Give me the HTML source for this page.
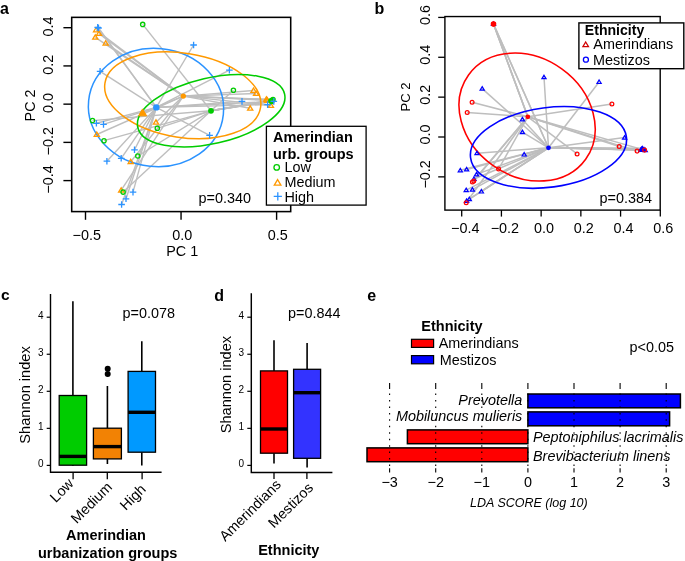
<!DOCTYPE html>
<html><head><meta charset="utf-8"><style>
html,body{margin:0;padding:0;background:#fff;}
svg{display:block;font-family:"Liberation Sans", sans-serif;will-change:transform;}
</style></head><body>
<svg width="685" height="561" viewBox="0 0 685 561">
<rect width="685" height="561" fill="#fff"/>
<text x="0.00" y="13.60" font-size="16" text-anchor="start" font-weight="bold" fill="#000">a</text>
<g stroke-linecap="butt">
<line x1="211.00" y1="110.80" x2="142.70" y2="24.40" stroke="#BEBEBE" stroke-width="1.4"/>
<line x1="211.00" y1="110.80" x2="233.40" y2="90.30" stroke="#BEBEBE" stroke-width="1.4"/>
<line x1="211.00" y1="110.80" x2="92.50" y2="120.60" stroke="#BEBEBE" stroke-width="1.4"/>
<line x1="211.00" y1="110.80" x2="157.30" y2="128.30" stroke="#BEBEBE" stroke-width="1.4"/>
<line x1="211.00" y1="110.80" x2="104.00" y2="140.70" stroke="#BEBEBE" stroke-width="1.4"/>
<line x1="211.00" y1="110.80" x2="137.80" y2="156.00" stroke="#BEBEBE" stroke-width="1.4"/>
<line x1="211.00" y1="110.80" x2="123.10" y2="192.10" stroke="#BEBEBE" stroke-width="1.4"/>
<line x1="211.00" y1="110.80" x2="272.20" y2="100.40" stroke="#BEBEBE" stroke-width="1.4"/>
<line x1="211.00" y1="110.80" x2="272.20" y2="100.40" stroke="#BEBEBE" stroke-width="1.4"/>
<line x1="211.00" y1="110.80" x2="272.20" y2="100.40" stroke="#BEBEBE" stroke-width="1.4"/>
<line x1="211.00" y1="110.80" x2="271.50" y2="101.50" stroke="#BEBEBE" stroke-width="1.4"/>
<line x1="211.00" y1="110.80" x2="271.50" y2="101.50" stroke="#BEBEBE" stroke-width="1.4"/>
<line x1="211.00" y1="110.80" x2="273.00" y2="99.60" stroke="#BEBEBE" stroke-width="1.4"/>
<line x1="211.00" y1="110.80" x2="271.00" y2="100.80" stroke="#BEBEBE" stroke-width="1.4"/>
<line x1="183.30" y1="96.10" x2="266.40" y2="99.30" stroke="#BEBEBE" stroke-width="1.4"/>
<line x1="183.30" y1="96.10" x2="267.40" y2="100.40" stroke="#BEBEBE" stroke-width="1.4"/>
<line x1="183.30" y1="96.10" x2="96.10" y2="30.00" stroke="#BEBEBE" stroke-width="1.4"/>
<line x1="183.30" y1="96.10" x2="99.00" y2="33.60" stroke="#BEBEBE" stroke-width="1.4"/>
<line x1="183.30" y1="96.10" x2="95.30" y2="37.30" stroke="#BEBEBE" stroke-width="1.4"/>
<line x1="183.30" y1="96.10" x2="105.70" y2="43.20" stroke="#BEBEBE" stroke-width="1.4"/>
<line x1="183.30" y1="96.10" x2="253.50" y2="90.50" stroke="#BEBEBE" stroke-width="1.4"/>
<line x1="183.30" y1="96.10" x2="256.10" y2="93.50" stroke="#BEBEBE" stroke-width="1.4"/>
<line x1="183.30" y1="96.10" x2="250.20" y2="108.30" stroke="#BEBEBE" stroke-width="1.4"/>
<line x1="183.30" y1="96.10" x2="142.40" y2="112.80" stroke="#BEBEBE" stroke-width="1.4"/>
<line x1="183.30" y1="96.10" x2="156.00" y2="122.30" stroke="#BEBEBE" stroke-width="1.4"/>
<line x1="183.30" y1="96.10" x2="96.80" y2="134.50" stroke="#BEBEBE" stroke-width="1.4"/>
<line x1="183.30" y1="96.10" x2="130.70" y2="161.80" stroke="#BEBEBE" stroke-width="1.4"/>
<line x1="183.30" y1="96.10" x2="121.20" y2="190.20" stroke="#BEBEBE" stroke-width="1.4"/>
<line x1="183.30" y1="96.10" x2="266.90" y2="99.70" stroke="#BEBEBE" stroke-width="1.4"/>
<line x1="183.30" y1="96.10" x2="270.90" y2="105.60" stroke="#BEBEBE" stroke-width="1.4"/>
<line x1="156.30" y1="107.40" x2="97.70" y2="27.30" stroke="#BEBEBE" stroke-width="1.4"/>
<line x1="156.30" y1="107.40" x2="98.50" y2="28.00" stroke="#BEBEBE" stroke-width="1.4"/>
<line x1="156.30" y1="107.40" x2="100.10" y2="71.30" stroke="#BEBEBE" stroke-width="1.4"/>
<line x1="156.30" y1="107.40" x2="193.60" y2="45.00" stroke="#BEBEBE" stroke-width="1.4"/>
<line x1="156.30" y1="107.40" x2="229.40" y2="70.20" stroke="#BEBEBE" stroke-width="1.4"/>
<line x1="156.30" y1="107.40" x2="242.00" y2="101.40" stroke="#BEBEBE" stroke-width="1.4"/>
<line x1="156.30" y1="107.40" x2="209.60" y2="135.30" stroke="#BEBEBE" stroke-width="1.4"/>
<line x1="156.30" y1="107.40" x2="96.40" y2="123.30" stroke="#BEBEBE" stroke-width="1.4"/>
<line x1="156.30" y1="107.40" x2="103.50" y2="124.40" stroke="#BEBEBE" stroke-width="1.4"/>
<line x1="156.30" y1="107.40" x2="134.50" y2="149.80" stroke="#BEBEBE" stroke-width="1.4"/>
<line x1="156.30" y1="107.40" x2="121.20" y2="158.30" stroke="#BEBEBE" stroke-width="1.4"/>
<line x1="156.30" y1="107.40" x2="106.90" y2="161.20" stroke="#BEBEBE" stroke-width="1.4"/>
<line x1="156.30" y1="107.40" x2="133.00" y2="192.10" stroke="#BEBEBE" stroke-width="1.4"/>
<line x1="156.30" y1="107.40" x2="126.00" y2="198.80" stroke="#BEBEBE" stroke-width="1.4"/>
<line x1="156.30" y1="107.40" x2="121.60" y2="204.50" stroke="#BEBEBE" stroke-width="1.4"/>
<line x1="156.30" y1="107.40" x2="273.80" y2="101.40" stroke="#BEBEBE" stroke-width="1.4"/>
<line x1="156.30" y1="107.40" x2="267.60" y2="104.60" stroke="#BEBEBE" stroke-width="1.4"/>
</g>
<ellipse cx="156.00" cy="107.50" rx="67.70" ry="59.00" transform="rotate(5.79 156.00 107.50)" fill="none" stroke="#2B93FF" stroke-width="1.5"/>
<ellipse cx="182.76" cy="95.31" rx="78.76" ry="42.09" transform="rotate(8.89 182.76 95.31)" fill="none" stroke="#FF9900" stroke-width="1.5"/>
<ellipse cx="211.20" cy="110.77" rx="75.27" ry="32.87" transform="rotate(-12.86 211.20 110.77)" fill="none" stroke="#00CC00" stroke-width="1.5"/>
<polygon points="96.10,27.54 98.70,31.87 93.50,31.87" fill="none" stroke="#FF9900" stroke-width="1.3" stroke-linejoin="miter"/>
<polygon points="256.10,91.04 258.70,95.37 253.50,95.37" fill="none" stroke="#FF9900" stroke-width="1.3" stroke-linejoin="miter"/>
<polygon points="253.50,88.04 256.10,92.37 250.90,92.37" fill="none" stroke="#FF9900" stroke-width="1.3" stroke-linejoin="miter"/>
<polygon points="266.90,97.24 269.50,101.57 264.30,101.57" fill="none" stroke="#FF9900" stroke-width="1.3" stroke-linejoin="miter"/>
<polygon points="250.20,105.84 252.80,110.17 247.60,110.17" fill="none" stroke="#FF9900" stroke-width="1.3" stroke-linejoin="miter"/>
<polygon points="121.20,187.74 123.80,192.07 118.60,192.07" fill="none" stroke="#FF9900" stroke-width="1.3" stroke-linejoin="miter"/>
<polygon points="95.30,34.84 97.90,39.17 92.70,39.17" fill="none" stroke="#FF9900" stroke-width="1.3" stroke-linejoin="miter"/>
<polygon points="105.70,40.74 108.30,45.07 103.10,45.07" fill="none" stroke="#FF9900" stroke-width="1.3" stroke-linejoin="miter"/>
<polygon points="130.70,159.34 133.30,163.67 128.10,163.67" fill="none" stroke="#FF9900" stroke-width="1.3" stroke-linejoin="miter"/>
<polygon points="266.40,96.84 269.00,101.17 263.80,101.17" fill="none" stroke="#FF9900" stroke-width="1.3" stroke-linejoin="miter"/>
<polygon points="270.90,103.14 273.50,107.47 268.30,107.47" fill="none" stroke="#FF9900" stroke-width="1.3" stroke-linejoin="miter"/>
<polygon points="96.80,132.04 99.40,136.37 94.20,136.37" fill="none" stroke="#FF9900" stroke-width="1.3" stroke-linejoin="miter"/>
<polygon points="142.40,110.34 145.00,114.67 139.80,114.67" fill="none" stroke="#FF9900" stroke-width="1.3" stroke-linejoin="miter"/>
<polygon points="267.40,97.94 270.00,102.27 264.80,102.27" fill="none" stroke="#FF9900" stroke-width="1.3" stroke-linejoin="miter"/>
<polygon points="99.00,31.14 101.60,35.47 96.40,35.47" fill="none" stroke="#FF9900" stroke-width="1.3" stroke-linejoin="miter"/>
<polygon points="156.00,119.84 158.60,124.17 153.40,124.17" fill="none" stroke="#FF9900" stroke-width="1.3" stroke-linejoin="miter"/>
<circle cx="142.70" cy="24.40" r="2.15" fill="none" stroke="#00CC00" stroke-width="1.3"/>
<circle cx="157.30" cy="128.30" r="2.15" fill="none" stroke="#00CC00" stroke-width="1.3"/>
<circle cx="233.40" cy="90.30" r="2.15" fill="none" stroke="#00CC00" stroke-width="1.3"/>
<circle cx="272.20" cy="100.40" r="2.15" fill="none" stroke="#00CC00" stroke-width="1.3"/>
<circle cx="137.80" cy="156.00" r="2.15" fill="none" stroke="#00CC00" stroke-width="1.3"/>
<circle cx="92.50" cy="120.60" r="2.15" fill="none" stroke="#00CC00" stroke-width="1.3"/>
<circle cx="104.00" cy="140.70" r="2.15" fill="none" stroke="#00CC00" stroke-width="1.3"/>
<circle cx="123.10" cy="192.10" r="2.15" fill="none" stroke="#00CC00" stroke-width="1.3"/>
<circle cx="271.50" cy="101.50" r="2.15" fill="none" stroke="#00CC00" stroke-width="1.3"/>
<circle cx="271.00" cy="100.80" r="2.15" fill="none" stroke="#00CC00" stroke-width="1.3"/>
<circle cx="273.00" cy="99.60" r="2.15" fill="none" stroke="#00CC00" stroke-width="1.3"/>
<path d="M122.70 198.80H129.30M126.00 195.50V202.10" stroke="#2B93FF" stroke-width="1.3" fill="none"/>
<path d="M206.30 135.30H212.90M209.60 132.00V138.60" stroke="#2B93FF" stroke-width="1.3" fill="none"/>
<path d="M93.10 123.30H99.70M96.40 120.00V126.60" stroke="#2B93FF" stroke-width="1.3" fill="none"/>
<path d="M100.20 124.40H106.80M103.50 121.10V127.70" stroke="#2B93FF" stroke-width="1.3" fill="none"/>
<path d="M117.90 158.30H124.50M121.20 155.00V161.60" stroke="#2B93FF" stroke-width="1.3" fill="none"/>
<path d="M190.30 45.00H196.90M193.60 41.70V48.30" stroke="#2B93FF" stroke-width="1.3" fill="none"/>
<path d="M270.50 101.40H277.10M273.80 98.10V104.70" stroke="#2B93FF" stroke-width="1.3" fill="none"/>
<path d="M264.30 104.60H270.90M267.60 101.30V107.90" stroke="#2B93FF" stroke-width="1.3" fill="none"/>
<path d="M131.20 149.80H137.80M134.50 146.50V153.10" stroke="#2B93FF" stroke-width="1.3" fill="none"/>
<path d="M129.70 192.10H136.30M133.00 188.80V195.40" stroke="#2B93FF" stroke-width="1.3" fill="none"/>
<path d="M94.40 27.30H101.00M97.70 24.00V30.60" stroke="#2B93FF" stroke-width="1.3" fill="none"/>
<path d="M96.80 71.30H103.40M100.10 68.00V74.60" stroke="#2B93FF" stroke-width="1.3" fill="none"/>
<path d="M226.10 70.20H232.70M229.40 66.90V73.50" stroke="#2B93FF" stroke-width="1.3" fill="none"/>
<path d="M118.30 204.50H124.90M121.60 201.20V207.80" stroke="#2B93FF" stroke-width="1.3" fill="none"/>
<path d="M95.20 28.00H101.80M98.50 24.70V31.30" stroke="#2B93FF" stroke-width="1.3" fill="none"/>
<path d="M103.60 161.20H110.20M106.90 157.90V164.50" stroke="#2B93FF" stroke-width="1.3" fill="none"/>
<path d="M238.70 101.40H245.30M242.00 98.10V104.70" stroke="#2B93FF" stroke-width="1.3" fill="none"/>
<polygon points="142.6,108.9 146.6,115.8 138.6,115.8" fill="#FF9900" stroke="#FF9900" stroke-width="1"/>
<circle cx="211.00" cy="110.80" r="2.90" fill="#00CC00" stroke="none" stroke-width="0"/>
<circle cx="183.30" cy="96.10" r="2.70" fill="#FF9900" stroke="none" stroke-width="0"/>
<circle cx="156.30" cy="107.40" r="3.20" fill="#2B93FF" stroke="none" stroke-width="0"/>
<rect x="71.70" y="17.35" width="219.00" height="194.25" fill="none" stroke="#000" stroke-width="1.55"/>
<line x1="85.50" y1="211.60" x2="85.50" y2="219.80" stroke="#000" stroke-width="1.4"/>
<text x="86.70" y="239.80" font-size="14.4" text-anchor="middle" fill="#000">−0.5</text>
<line x1="181.05" y1="211.60" x2="181.05" y2="219.80" stroke="#000" stroke-width="1.4"/>
<text x="182.25" y="239.80" font-size="14.4" text-anchor="middle" fill="#000">0.0</text>
<line x1="276.60" y1="211.60" x2="276.60" y2="219.80" stroke="#000" stroke-width="1.4"/>
<text x="277.80" y="239.80" font-size="14.4" text-anchor="middle" fill="#000">0.5</text>
<text x="182.20" y="256.00" font-size="14.4" text-anchor="middle" fill="#000">PC 1</text>
<line x1="63.40" y1="27.70" x2="71.70" y2="27.70" stroke="#000" stroke-width="1.4"/>
<text x="52.60" y="26.50" font-size="14.4" text-anchor="middle" fill="#000" transform="rotate(-90 52.60 26.50)">0.4</text>
<line x1="63.40" y1="65.92" x2="71.70" y2="65.92" stroke="#000" stroke-width="1.4"/>
<text x="52.60" y="64.72" font-size="14.4" text-anchor="middle" fill="#000" transform="rotate(-90 52.60 64.72)">0.2</text>
<line x1="63.40" y1="104.15" x2="71.70" y2="104.15" stroke="#000" stroke-width="1.4"/>
<text x="52.60" y="102.95" font-size="14.4" text-anchor="middle" fill="#000" transform="rotate(-90 52.60 102.95)">0.0</text>
<line x1="63.40" y1="142.38" x2="71.70" y2="142.38" stroke="#000" stroke-width="1.4"/>
<text x="52.60" y="141.18" font-size="14.4" text-anchor="middle" fill="#000" transform="rotate(-90 52.60 141.18)">−0.2</text>
<line x1="63.40" y1="180.60" x2="71.70" y2="180.60" stroke="#000" stroke-width="1.4"/>
<text x="52.60" y="179.40" font-size="14.4" text-anchor="middle" fill="#000" transform="rotate(-90 52.60 179.40)">−0.4</text>
<text x="34.60" y="105.40" font-size="14.4" text-anchor="middle" fill="#000" transform="rotate(-90 34.60 105.40)">PC 2</text>
<text x="198.50" y="203.10" font-size="14.4" text-anchor="start" fill="#000">p=0.340</text>
<rect x="266.40" y="126.30" width="99.70" height="78.80" fill="#fff" stroke="#000" stroke-width="1.3"/>
<text x="273.00" y="141.60" font-size="14.5" text-anchor="start" font-weight="bold" fill="#000">Amerindian</text>
<text x="273.00" y="158.50" font-size="14.5" text-anchor="start" font-weight="bold" fill="#000">urb. groups</text>
<circle cx="276.70" cy="167.40" r="2.75" fill="none" stroke="#00CC00" stroke-width="1.3"/>
<text x="284.40" y="172.30" font-size="14.4" text-anchor="start" fill="#000">Low</text>
<polygon points="277.60,179.58 280.90,185.08 274.30,185.08" fill="none" stroke="#FF9900" stroke-width="1.3" stroke-linejoin="miter"/>
<text x="284.40" y="187.10" font-size="14.4" text-anchor="start" fill="#000">Medium</text>
<path d="M273.70 196.30H281.90M277.80 192.20V200.40" stroke="#2B93FF" stroke-width="1.3" fill="none"/>
<text x="284.40" y="202.10" font-size="14.4" text-anchor="start" fill="#000">High</text>
<text x="374.50" y="14.30" font-size="16" text-anchor="start" font-weight="bold" fill="#000">b</text>
<line x1="527.80" y1="116.80" x2="493.50" y2="24.00" stroke="#BEBEBE" stroke-width="1.5"/>
<line x1="527.80" y1="116.80" x2="493.50" y2="24.00" stroke="#BEBEBE" stroke-width="1.5"/>
<line x1="527.80" y1="116.80" x2="493.50" y2="24.00" stroke="#BEBEBE" stroke-width="1.5"/>
<line x1="527.80" y1="116.80" x2="472.10" y2="102.20" stroke="#BEBEBE" stroke-width="1.5"/>
<line x1="527.80" y1="116.80" x2="467.20" y2="112.50" stroke="#BEBEBE" stroke-width="1.5"/>
<line x1="527.80" y1="116.80" x2="611.90" y2="104.00" stroke="#BEBEBE" stroke-width="1.5"/>
<line x1="527.80" y1="116.80" x2="498.60" y2="169.00" stroke="#BEBEBE" stroke-width="1.5"/>
<line x1="527.80" y1="116.80" x2="473.80" y2="181.10" stroke="#BEBEBE" stroke-width="1.5"/>
<line x1="527.80" y1="116.80" x2="472.40" y2="182.00" stroke="#BEBEBE" stroke-width="1.5"/>
<line x1="527.80" y1="116.80" x2="466.20" y2="202.70" stroke="#BEBEBE" stroke-width="1.5"/>
<line x1="527.80" y1="116.80" x2="619.20" y2="146.50" stroke="#BEBEBE" stroke-width="1.5"/>
<line x1="527.80" y1="116.80" x2="577.10" y2="153.90" stroke="#BEBEBE" stroke-width="1.5"/>
<line x1="527.80" y1="116.80" x2="637.10" y2="151.10" stroke="#BEBEBE" stroke-width="1.5"/>
<line x1="527.80" y1="116.80" x2="644.60" y2="150.10" stroke="#BEBEBE" stroke-width="1.5"/>
<line x1="548.50" y1="147.80" x2="544.00" y2="77.20" stroke="#BEBEBE" stroke-width="1.5"/>
<line x1="548.50" y1="147.80" x2="482.20" y2="88.60" stroke="#BEBEBE" stroke-width="1.5"/>
<line x1="548.50" y1="147.80" x2="599.10" y2="82.00" stroke="#BEBEBE" stroke-width="1.5"/>
<line x1="548.50" y1="147.80" x2="522.40" y2="119.40" stroke="#BEBEBE" stroke-width="1.5"/>
<line x1="548.50" y1="147.80" x2="522.40" y2="132.10" stroke="#BEBEBE" stroke-width="1.5"/>
<line x1="548.50" y1="147.80" x2="477.00" y2="153.20" stroke="#BEBEBE" stroke-width="1.5"/>
<line x1="548.50" y1="147.80" x2="524.20" y2="154.50" stroke="#BEBEBE" stroke-width="1.5"/>
<line x1="548.50" y1="147.80" x2="460.30" y2="170.30" stroke="#BEBEBE" stroke-width="1.5"/>
<line x1="548.50" y1="147.80" x2="466.60" y2="169.40" stroke="#BEBEBE" stroke-width="1.5"/>
<line x1="548.50" y1="147.80" x2="476.50" y2="174.40" stroke="#BEBEBE" stroke-width="1.5"/>
<line x1="548.50" y1="147.80" x2="474.00" y2="179.00" stroke="#BEBEBE" stroke-width="1.5"/>
<line x1="548.50" y1="147.80" x2="466.20" y2="190.10" stroke="#BEBEBE" stroke-width="1.5"/>
<line x1="548.50" y1="147.80" x2="472.40" y2="189.60" stroke="#BEBEBE" stroke-width="1.5"/>
<line x1="548.50" y1="147.80" x2="481.40" y2="191.50" stroke="#BEBEBE" stroke-width="1.5"/>
<line x1="548.50" y1="147.80" x2="469.30" y2="199.10" stroke="#BEBEBE" stroke-width="1.5"/>
<line x1="548.50" y1="147.80" x2="466.60" y2="200.90" stroke="#BEBEBE" stroke-width="1.5"/>
<line x1="548.50" y1="147.80" x2="624.60" y2="137.60" stroke="#BEBEBE" stroke-width="1.5"/>
<line x1="548.50" y1="147.80" x2="641.40" y2="149.10" stroke="#BEBEBE" stroke-width="1.5"/>
<line x1="548.50" y1="147.80" x2="641.40" y2="149.10" stroke="#BEBEBE" stroke-width="1.5"/>
<line x1="548.50" y1="147.80" x2="641.40" y2="149.10" stroke="#BEBEBE" stroke-width="1.5"/>
<line x1="548.50" y1="147.80" x2="644.00" y2="149.50" stroke="#BEBEBE" stroke-width="1.5"/>
<line x1="548.50" y1="147.80" x2="644.00" y2="149.50" stroke="#BEBEBE" stroke-width="1.5"/>
<line x1="548.50" y1="147.80" x2="644.00" y2="149.50" stroke="#BEBEBE" stroke-width="1.5"/>
<line x1="548.50" y1="147.80" x2="493.50" y2="24.00" stroke="#BEBEBE" stroke-width="1.5"/>
<line x1="548.50" y1="147.80" x2="493.50" y2="24.00" stroke="#BEBEBE" stroke-width="1.5"/>
<line x1="548.50" y1="147.80" x2="642.30" y2="148.30" stroke="#BEBEBE" stroke-width="1.5"/>
<line x1="548.50" y1="147.80" x2="643.20" y2="149.90" stroke="#BEBEBE" stroke-width="1.5"/>
<line x1="548.50" y1="147.80" x2="645.20" y2="150.20" stroke="#BEBEBE" stroke-width="1.5"/>
<line x1="548.50" y1="147.80" x2="641.00" y2="150.00" stroke="#BEBEBE" stroke-width="1.5"/>
<ellipse cx="527.10" cy="117.05" rx="72.14" ry="59.33" transform="rotate(35.73 527.10 117.05)" fill="none" stroke="#FF0000" stroke-width="1.55"/>
<ellipse cx="548.48" cy="147.40" rx="78.60" ry="39.83" transform="rotate(-7.69 548.48 147.40)" fill="none" stroke="#0000FF" stroke-width="1.6"/>
<polygon points="482.20,86.62 484.30,90.11 480.10,90.11" fill="none" stroke="#0000FF" stroke-width="1.2" stroke-linejoin="miter"/>
<polygon points="524.20,152.52 526.30,156.01 522.10,156.01" fill="none" stroke="#0000FF" stroke-width="1.2" stroke-linejoin="miter"/>
<polygon points="522.40,117.42 524.50,120.91 520.30,120.91" fill="none" stroke="#0000FF" stroke-width="1.2" stroke-linejoin="miter"/>
<polygon points="624.60,135.62 626.70,139.11 622.50,139.11" fill="none" stroke="#0000FF" stroke-width="1.2" stroke-linejoin="miter"/>
<polygon points="477.00,151.22 479.10,154.71 474.90,154.71" fill="none" stroke="#0000FF" stroke-width="1.2" stroke-linejoin="miter"/>
<polygon points="544.00,75.22 546.10,78.71 541.90,78.71" fill="none" stroke="#0000FF" stroke-width="1.2" stroke-linejoin="miter"/>
<polygon points="644.00,147.52 646.10,151.01 641.90,151.01" fill="none" stroke="#0000FF" stroke-width="1.2" stroke-linejoin="miter"/>
<polygon points="643.20,147.92 645.30,151.41 641.10,151.41" fill="none" stroke="#0000FF" stroke-width="1.2" stroke-linejoin="miter"/>
<polygon points="460.30,168.32 462.40,171.81 458.20,171.81" fill="none" stroke="#0000FF" stroke-width="1.2" stroke-linejoin="miter"/>
<polygon points="522.40,130.12 524.50,133.61 520.30,133.61" fill="none" stroke="#0000FF" stroke-width="1.2" stroke-linejoin="miter"/>
<polygon points="642.30,146.32 644.40,149.81 640.20,149.81" fill="none" stroke="#0000FF" stroke-width="1.2" stroke-linejoin="miter"/>
<polygon points="472.40,187.62 474.50,191.11 470.30,191.11" fill="none" stroke="#0000FF" stroke-width="1.2" stroke-linejoin="miter"/>
<polygon points="641.00,148.02 643.10,151.51 638.90,151.51" fill="none" stroke="#0000FF" stroke-width="1.2" stroke-linejoin="miter"/>
<polygon points="466.60,167.42 468.70,170.91 464.50,170.91" fill="none" stroke="#0000FF" stroke-width="1.2" stroke-linejoin="miter"/>
<polygon points="469.30,197.12 471.40,200.61 467.20,200.61" fill="none" stroke="#0000FF" stroke-width="1.2" stroke-linejoin="miter"/>
<polygon points="481.40,189.52 483.50,193.01 479.30,193.01" fill="none" stroke="#0000FF" stroke-width="1.2" stroke-linejoin="miter"/>
<polygon points="599.10,80.02 601.20,83.51 597.00,83.51" fill="none" stroke="#0000FF" stroke-width="1.2" stroke-linejoin="miter"/>
<polygon points="641.40,147.12 643.50,150.61 639.30,150.61" fill="none" stroke="#0000FF" stroke-width="1.2" stroke-linejoin="miter"/>
<polygon points="493.50,22.02 495.60,25.51 491.40,25.51" fill="none" stroke="#0000FF" stroke-width="1.2" stroke-linejoin="miter"/>
<polygon points="474.00,177.02 476.10,180.51 471.90,180.51" fill="none" stroke="#0000FF" stroke-width="1.2" stroke-linejoin="miter"/>
<polygon points="645.20,148.22 647.30,151.71 643.10,151.71" fill="none" stroke="#0000FF" stroke-width="1.2" stroke-linejoin="miter"/>
<polygon points="466.60,198.92 468.70,202.41 464.50,202.41" fill="none" stroke="#0000FF" stroke-width="1.2" stroke-linejoin="miter"/>
<polygon points="466.20,188.12 468.30,191.61 464.10,191.61" fill="none" stroke="#0000FF" stroke-width="1.2" stroke-linejoin="miter"/>
<polygon points="476.50,172.42 478.60,175.91 474.40,175.91" fill="none" stroke="#0000FF" stroke-width="1.2" stroke-linejoin="miter"/>
<circle cx="611.90" cy="104.00" r="1.90" fill="none" stroke="#FF0000" stroke-width="1.25"/>
<circle cx="472.10" cy="102.20" r="1.90" fill="none" stroke="#FF0000" stroke-width="1.25"/>
<circle cx="619.20" cy="146.50" r="1.90" fill="none" stroke="#FF0000" stroke-width="1.25"/>
<circle cx="498.60" cy="169.00" r="1.90" fill="none" stroke="#FF0000" stroke-width="1.25"/>
<circle cx="577.10" cy="153.90" r="1.90" fill="none" stroke="#FF0000" stroke-width="1.25"/>
<circle cx="467.20" cy="112.50" r="1.90" fill="none" stroke="#FF0000" stroke-width="1.25"/>
<circle cx="493.50" cy="24.00" r="1.90" fill="none" stroke="#FF0000" stroke-width="1.25"/>
<circle cx="466.20" cy="202.70" r="1.90" fill="none" stroke="#FF0000" stroke-width="1.25"/>
<circle cx="473.80" cy="181.10" r="1.90" fill="none" stroke="#FF0000" stroke-width="1.25"/>
<circle cx="637.10" cy="151.10" r="1.90" fill="none" stroke="#FF0000" stroke-width="1.25"/>
<circle cx="472.40" cy="182.00" r="1.90" fill="none" stroke="#FF0000" stroke-width="1.25"/>
<circle cx="644.60" cy="150.10" r="1.90" fill="none" stroke="#FF0000" stroke-width="1.25"/>
<circle cx="493.50" cy="24.00" r="2.80" fill="#FF0000" stroke="none" stroke-width="0"/>
<circle cx="527.80" cy="116.80" r="2.40" fill="#FF0000" stroke="none" stroke-width="0"/>
<circle cx="548.50" cy="147.80" r="2.40" fill="#0000FF" stroke="none" stroke-width="0"/>
<rect x="444.90" y="16.55" width="215.30" height="193.55" fill="none" stroke="#000" stroke-width="1.4"/>
<line x1="461.70" y1="210.10" x2="461.70" y2="216.60" stroke="#000" stroke-width="1.3"/>
<text x="465.20" y="232.80" font-size="14.4" text-anchor="middle" fill="#000">−0.4</text>
<line x1="501.42" y1="210.10" x2="501.42" y2="216.60" stroke="#000" stroke-width="1.3"/>
<text x="504.92" y="232.80" font-size="14.4" text-anchor="middle" fill="#000">−0.2</text>
<line x1="541.14" y1="210.10" x2="541.14" y2="216.60" stroke="#000" stroke-width="1.3"/>
<text x="544.04" y="232.80" font-size="14.4" text-anchor="middle" fill="#000">0.0</text>
<line x1="580.86" y1="210.10" x2="580.86" y2="216.60" stroke="#000" stroke-width="1.3"/>
<text x="583.76" y="232.80" font-size="14.4" text-anchor="middle" fill="#000">0.2</text>
<line x1="620.58" y1="210.10" x2="620.58" y2="216.60" stroke="#000" stroke-width="1.3"/>
<text x="623.48" y="232.80" font-size="14.4" text-anchor="middle" fill="#000">0.4</text>
<line x1="660.30" y1="210.10" x2="660.30" y2="216.60" stroke="#000" stroke-width="1.3"/>
<text x="663.20" y="232.80" font-size="14.4" text-anchor="middle" fill="#000">0.6</text>
<line x1="438.20" y1="17.42" x2="444.90" y2="17.42" stroke="#000" stroke-width="1.3"/>
<text x="430.00" y="14.92" font-size="14.4" text-anchor="middle" fill="#000" transform="rotate(-90 430.00 14.92)">0.6</text>
<line x1="438.20" y1="57.28" x2="444.90" y2="57.28" stroke="#000" stroke-width="1.3"/>
<text x="430.00" y="54.78" font-size="14.4" text-anchor="middle" fill="#000" transform="rotate(-90 430.00 54.78)">0.4</text>
<line x1="438.20" y1="97.14" x2="444.90" y2="97.14" stroke="#000" stroke-width="1.3"/>
<text x="430.00" y="94.64" font-size="14.4" text-anchor="middle" fill="#000" transform="rotate(-90 430.00 94.64)">0.2</text>
<line x1="438.20" y1="137.00" x2="444.90" y2="137.00" stroke="#000" stroke-width="1.3"/>
<text x="430.00" y="134.50" font-size="14.4" text-anchor="middle" fill="#000" transform="rotate(-90 430.00 134.50)">0.0</text>
<line x1="438.20" y1="176.86" x2="444.90" y2="176.86" stroke="#000" stroke-width="1.3"/>
<text x="430.00" y="174.36" font-size="14.4" text-anchor="middle" fill="#000" transform="rotate(-90 430.00 174.36)">−0.2</text>
<text x="409.60" y="97.00" font-size="13" text-anchor="middle" fill="#000" transform="rotate(-90 409.60 97.00)">PC 2</text>
<text x="599.50" y="203.30" font-size="14.4" text-anchor="start" fill="#000">p=0.384</text>
<rect x="578.90" y="22.90" width="104.90" height="45.80" fill="#fff" stroke="#000" stroke-width="1.4"/>
<text x="584.80" y="34.80" font-size="14.1" text-anchor="start" font-weight="bold" fill="#000">Ethnicity</text>
<polygon points="585.70,41.95 588.50,46.62 582.90,46.62" fill="none" stroke="#D00000" stroke-width="1.25" stroke-linejoin="miter"/>
<text x="593.30" y="49.10" font-size="14.4" text-anchor="start" fill="#000">Amerindians</text>
<circle cx="585.90" cy="59.70" r="2.50" fill="none" stroke="#0000FF" stroke-width="1.3"/>
<text x="593.10" y="65.00" font-size="14.4" text-anchor="start" fill="#000">Mestizos</text>
<text x="0.90" y="300.30" font-size="15.5" text-anchor="start" font-weight="bold" fill="#000">c</text>
<path d="M50.5 294V472.3H161.6" fill="none" stroke="#000" stroke-width="1.4"/>
<line x1="46.70" y1="465.40" x2="50.50" y2="465.40" stroke="#000" stroke-width="1.2"/>
<text x="43.60" y="467.40" font-size="10" text-anchor="end" fill="#000">0</text>
<line x1="46.70" y1="428.35" x2="50.50" y2="428.35" stroke="#000" stroke-width="1.2"/>
<text x="43.60" y="430.35" font-size="10" text-anchor="end" fill="#000">1</text>
<line x1="46.70" y1="391.30" x2="50.50" y2="391.30" stroke="#000" stroke-width="1.2"/>
<text x="43.60" y="393.30" font-size="10" text-anchor="end" fill="#000">2</text>
<line x1="46.70" y1="354.25" x2="50.50" y2="354.25" stroke="#000" stroke-width="1.2"/>
<text x="43.60" y="356.25" font-size="10" text-anchor="end" fill="#000">3</text>
<line x1="46.70" y1="317.20" x2="50.50" y2="317.20" stroke="#000" stroke-width="1.2"/>
<text x="43.60" y="319.20" font-size="10" text-anchor="end" fill="#000">4</text>
<line x1="72.90" y1="301.20" x2="72.90" y2="395.50" stroke="#000" stroke-width="1.6"/>
<line x1="72.90" y1="465.20" x2="72.90" y2="466.00" stroke="#000" stroke-width="1.6"/>
<rect x="59.20" y="395.50" width="27.40" height="69.70" fill="#00CC00" stroke="#000" stroke-width="1.3"/>
<line x1="59.20" y1="456.40" x2="86.60" y2="456.40" stroke="#000" stroke-width="3.4"/>
<line x1="107.40" y1="386.00" x2="107.40" y2="428.20" stroke="#000" stroke-width="1.6"/>
<line x1="107.40" y1="458.90" x2="107.40" y2="464.00" stroke="#000" stroke-width="1.6"/>
<rect x="93.40" y="428.20" width="28.00" height="30.70" fill="#F28204" stroke="#000" stroke-width="1.3"/>
<line x1="93.40" y1="446.60" x2="121.40" y2="446.60" stroke="#000" stroke-width="3.4"/>
<line x1="141.80" y1="341.20" x2="141.80" y2="371.40" stroke="#000" stroke-width="1.6"/>
<line x1="141.80" y1="452.20" x2="141.80" y2="465.40" stroke="#000" stroke-width="1.6"/>
<rect x="128.10" y="371.40" width="27.40" height="80.80" fill="#0099FF" stroke="#000" stroke-width="1.3"/>
<line x1="128.10" y1="412.30" x2="155.50" y2="412.30" stroke="#000" stroke-width="3.4"/>
<circle cx="107.70" cy="373.90" r="3.00" fill="#000" stroke="none" stroke-width="0"/>
<circle cx="107.70" cy="368.80" r="3.00" fill="#000" stroke="none" stroke-width="0"/>
<line x1="73.10" y1="472.50" x2="73.10" y2="479.30" stroke="#000" stroke-width="1.3"/>
<text x="74.40" y="484.50" font-size="14.4" text-anchor="end" fill="#000" transform="rotate(-45 74.40 484.50)">Low</text>
<line x1="107.30" y1="472.50" x2="107.30" y2="479.30" stroke="#000" stroke-width="1.3"/>
<text x="113.00" y="488.00" font-size="14.4" text-anchor="end" fill="#000" transform="rotate(-45 113.00 488.00)">Medium</text>
<line x1="142.10" y1="472.50" x2="142.10" y2="479.30" stroke="#000" stroke-width="1.3"/>
<text x="146.80" y="490.10" font-size="14.4" text-anchor="end" fill="#000" transform="rotate(-45 146.80 490.10)">High</text>
<text x="29.60" y="395.00" font-size="14.6" text-anchor="middle" fill="#000" transform="rotate(-90 29.60 395.00)">Shannon index</text>
<text x="122.50" y="317.60" font-size="14.4" text-anchor="start" fill="#000">p=0.078</text>
<text x="106.00" y="540.40" font-size="14.5" text-anchor="middle" font-weight="bold" fill="#000">Amerindian</text>
<text x="107.70" y="557.50" font-size="14.5" text-anchor="middle" font-weight="bold" fill="#000">urbanization groups</text>
<text x="214.20" y="300.90" font-size="16" text-anchor="start" font-weight="bold" fill="#000">d</text>
<path d="M251.3 293.3V472.4H332.4" fill="none" stroke="#000" stroke-width="1.45"/>
<line x1="247.30" y1="465.40" x2="251.30" y2="465.40" stroke="#000" stroke-width="1.2"/>
<text x="244.00" y="467.40" font-size="10" text-anchor="end" fill="#000">0</text>
<line x1="247.30" y1="428.35" x2="251.30" y2="428.35" stroke="#000" stroke-width="1.2"/>
<text x="244.00" y="430.35" font-size="10" text-anchor="end" fill="#000">1</text>
<line x1="247.30" y1="391.30" x2="251.30" y2="391.30" stroke="#000" stroke-width="1.2"/>
<text x="244.00" y="393.30" font-size="10" text-anchor="end" fill="#000">2</text>
<line x1="247.30" y1="354.25" x2="251.30" y2="354.25" stroke="#000" stroke-width="1.2"/>
<text x="244.00" y="356.25" font-size="10" text-anchor="end" fill="#000">3</text>
<line x1="247.30" y1="317.20" x2="251.30" y2="317.20" stroke="#000" stroke-width="1.2"/>
<text x="244.00" y="319.20" font-size="10" text-anchor="end" fill="#000">4</text>
<line x1="274.00" y1="340.30" x2="274.00" y2="370.90" stroke="#000" stroke-width="1.6"/>
<line x1="274.00" y1="453.20" x2="274.00" y2="463.40" stroke="#000" stroke-width="1.6"/>
<rect x="260.50" y="370.90" width="27.00" height="82.30" fill="#FF0000" stroke="#000" stroke-width="1.3"/>
<line x1="260.50" y1="429.00" x2="287.50" y2="429.00" stroke="#000" stroke-width="3.4"/>
<line x1="307.10" y1="343.00" x2="307.10" y2="369.30" stroke="#000" stroke-width="1.6"/>
<line x1="307.10" y1="458.30" x2="307.10" y2="467.50" stroke="#000" stroke-width="1.6"/>
<rect x="293.60" y="369.30" width="27.00" height="89.00" fill="#3333FF" stroke="#000" stroke-width="1.3"/>
<line x1="293.60" y1="392.70" x2="320.60" y2="392.70" stroke="#000" stroke-width="3.4"/>
<line x1="274.00" y1="472.40" x2="274.00" y2="479.00" stroke="#000" stroke-width="1.3"/>
<text x="281.90" y="485.50" font-size="14.4" text-anchor="end" fill="#000" transform="rotate(-45 281.90 485.50)">Amerindians</text>
<line x1="306.90" y1="472.40" x2="306.90" y2="479.00" stroke="#000" stroke-width="1.3"/>
<text x="314.10" y="488.70" font-size="14.4" text-anchor="end" fill="#000" transform="rotate(-45 314.10 488.70)">Mestizos</text>
<text x="231.00" y="384.60" font-size="14.6" text-anchor="middle" fill="#000" transform="rotate(-90 231.00 384.60)">Shannon index</text>
<text x="288.00" y="317.80" font-size="14.4" text-anchor="start" fill="#000">p=0.844</text>
<text x="288.80" y="555.30" font-size="14.5" text-anchor="middle" font-weight="bold" fill="#000">Ethnicity</text>
<text x="367.30" y="300.60" font-size="16" text-anchor="start" font-weight="bold" fill="#000">e</text>
<text x="421.30" y="330.70" font-size="14.5" text-anchor="start" font-weight="bold" fill="#000">Ethnicity</text>
<rect x="411.50" y="339.30" width="22.10" height="8.10" fill="#FF0000" stroke="#000" stroke-width="1.2"/>
<rect x="411.50" y="355.60" width="22.10" height="8.20" fill="#0000FF" stroke="#000" stroke-width="1.2"/>
<text x="438.70" y="347.60" font-size="14.4" text-anchor="start" fill="#000">Amerindians</text>
<text x="439.70" y="364.60" font-size="14.4" text-anchor="start" fill="#000">Mestizos</text>
<text x="629.50" y="351.50" font-size="14.4" text-anchor="start" fill="#000">p<0.05</text>
<rect x="527.90" y="394.00" width="152.50" height="13.80" fill="#0000FF" stroke="#000" stroke-width="1.5"/>
<rect x="527.90" y="411.90" width="141.70" height="13.90" fill="#0000FF" stroke="#000" stroke-width="1.5"/>
<rect x="407.40" y="429.90" width="120.50" height="13.80" fill="#FF0000" stroke="#000" stroke-width="1.5"/>
<rect x="367.00" y="447.90" width="160.90" height="13.80" fill="#FF0000" stroke="#000" stroke-width="1.5"/>
<line x1="389.60" y1="383.10" x2="389.60" y2="388.90" stroke="#000" stroke-width="1.1"/>
<line x1="389.60" y1="393.55" x2="389.60" y2="466.00" stroke="#000" stroke-width="1.1" stroke-dasharray="1.5,4.95"/>
<line x1="389.60" y1="468.30" x2="389.60" y2="472.40" stroke="#000" stroke-width="1.1"/>
<line x1="435.70" y1="383.10" x2="435.70" y2="388.90" stroke="#000" stroke-width="1.1"/>
<line x1="435.70" y1="393.55" x2="435.70" y2="466.00" stroke="#000" stroke-width="1.1" stroke-dasharray="1.5,4.95"/>
<line x1="435.70" y1="468.30" x2="435.70" y2="472.40" stroke="#000" stroke-width="1.1"/>
<line x1="481.80" y1="383.10" x2="481.80" y2="388.90" stroke="#000" stroke-width="1.1"/>
<line x1="481.80" y1="393.55" x2="481.80" y2="466.00" stroke="#000" stroke-width="1.1" stroke-dasharray="1.5,4.95"/>
<line x1="481.80" y1="468.30" x2="481.80" y2="472.40" stroke="#000" stroke-width="1.1"/>
<line x1="527.90" y1="383.10" x2="527.90" y2="388.90" stroke="#000" stroke-width="1.1"/>
<line x1="527.90" y1="393.55" x2="527.90" y2="466.00" stroke="#000" stroke-width="1.1" stroke-dasharray="1.5,4.95"/>
<line x1="527.90" y1="468.30" x2="527.90" y2="472.40" stroke="#000" stroke-width="1.1"/>
<line x1="574.00" y1="383.10" x2="574.00" y2="388.90" stroke="#000" stroke-width="1.1"/>
<line x1="574.00" y1="393.55" x2="574.00" y2="466.00" stroke="#000" stroke-width="1.1" stroke-dasharray="1.5,4.95"/>
<line x1="574.00" y1="468.30" x2="574.00" y2="472.40" stroke="#000" stroke-width="1.1"/>
<line x1="620.10" y1="383.10" x2="620.10" y2="388.90" stroke="#000" stroke-width="1.1"/>
<line x1="620.10" y1="393.55" x2="620.10" y2="466.00" stroke="#000" stroke-width="1.1" stroke-dasharray="1.5,4.95"/>
<line x1="620.10" y1="468.30" x2="620.10" y2="472.40" stroke="#000" stroke-width="1.1"/>
<line x1="666.20" y1="383.10" x2="666.20" y2="388.90" stroke="#000" stroke-width="1.1"/>
<line x1="666.20" y1="393.55" x2="666.20" y2="466.00" stroke="#000" stroke-width="1.1" stroke-dasharray="1.5,4.95"/>
<line x1="666.20" y1="468.30" x2="666.20" y2="472.40" stroke="#000" stroke-width="1.1"/>
<text x="522.30" y="404.60" font-size="14.4" text-anchor="end" font-style="italic" fill="#000">Prevotella</text>
<text x="522.30" y="421.30" font-size="14.4" text-anchor="end" font-style="italic" fill="#000">Mobiluncus mulieris</text>
<text x="533.00" y="441.50" font-size="14.4" text-anchor="start" font-style="italic" fill="#000">Peptoniphilus lacrimalis</text>
<text x="533.00" y="460.50" font-size="14.4" text-anchor="start" font-style="italic" fill="#000">Brevibacterium linens</text>
<text x="389.60" y="486.80" font-size="14.4" text-anchor="middle" fill="#000">−3</text>
<text x="435.70" y="486.80" font-size="14.4" text-anchor="middle" fill="#000">−2</text>
<text x="481.80" y="486.80" font-size="14.4" text-anchor="middle" fill="#000">−1</text>
<text x="527.90" y="486.80" font-size="14.4" text-anchor="middle" fill="#000">0</text>
<text x="574.00" y="486.80" font-size="14.4" text-anchor="middle" fill="#000">1</text>
<text x="620.10" y="486.80" font-size="14.4" text-anchor="middle" fill="#000">2</text>
<text x="666.20" y="486.80" font-size="14.4" text-anchor="middle" fill="#000">3</text>
<text x="528.90" y="506.80" font-size="12.5" text-anchor="middle" font-style="italic" fill="#000">LDA SCORE (log 10)</text>
</svg></body></html>
